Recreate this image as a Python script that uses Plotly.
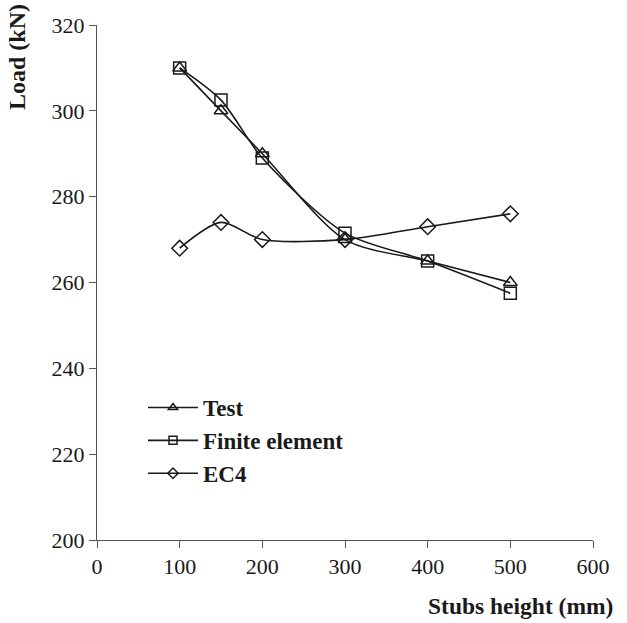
import plotly.graph_objects as go

stub_height = [100, 150, 200, 300, 400, 500]
load_test = [310, 300, 290, 270, 265, 260]
load_fe = [310, 302.5, 289, 271.5, 265, 257.5]
load_ec4 = [268, 274, 270, 270, 273, 276]

x_ticks = [0, 100, 200, 300, 400, 500, 600]
y_ticks = [200, 220, 240, 260, 280, 300, 320]

FONT = "Liberation Serif"
INK = "#1a1a1a"

series = [
    ("Test", load_test, "triangle-up-open"),
    ("Finite element", load_fe, "square-open"),
    ("EC4", load_ec4, "diamond-open"),
]

fig = go.Figure()
for name, y, sym in series:
    fig.add_trace(go.Scatter(
        x=stub_height, y=y, name=name, mode="lines+markers",
        line=dict(color=INK, width=1.6, shape="spline", smoothing=0.8),
        marker=dict(symbol=sym, size=12, color=INK, line=dict(width=1.5, color=INK)),
        showlegend=False,
    ))
    # legend entry with a smaller marker
    fig.add_trace(go.Scatter(
        x=[None], y=[None], name=name, mode="lines+markers",
        line=dict(color=INK, width=1.6),
        marker=dict(symbol=sym, size=8, color=INK, line=dict(width=1.5, color=INK)),
    ))

pw, ph = 627 - 97 - 34, 623 - 25 - 83

fig.update_layout(
    width=627, height=623,
    margin=dict(l=97, r=34, t=25, b=83),
    plot_bgcolor="white", paper_bgcolor="white",
    font=dict(family=FONT, size=22, color=INK),
    showlegend=True,
    legend=dict(
        x=(143 - 97) / pw, y=(540 - 386) / ph, xanchor="left", yanchor="top",
        bgcolor="rgba(0,0,0,0)", borderwidth=0,
        font=dict(family=FONT, size=23, color=INK, weight="bold"),
        itemwidth=50, traceorder="normal",
    ),
    xaxis=dict(
        range=[0, 600], tickvals=x_ticks, ticks="outside", ticklen=7,
        tickcolor="#555", showline=True, linecolor="#555", linewidth=1,
        showgrid=False, zeroline=False, tickfont=dict(size=22),
    ),
    yaxis=dict(
        range=[200, 320], tickvals=y_ticks, ticks="outside", ticklen=7,
        tickcolor="#555", showline=True, linecolor="#555", linewidth=1,
        showgrid=False, zeroline=False, tickfont=dict(size=22),
    ),
    annotations=[
        dict(text="<b>Stubs height (mm)</b>", x=(615 - 97) / pw, y=(540 - 606) / ph,
             xref="paper", yref="paper", showarrow=False,
             font=dict(size=23.5, family=FONT, color=INK), xanchor="right", yanchor="middle"),
        dict(text="<b>Load (kN)</b>", x=(17 - 97) / pw, y=(540 - 57) / ph,
             xref="paper", yref="paper", showarrow=False, textangle=-90,
             font=dict(size=24, family=FONT, color=INK), xanchor="center", yanchor="middle"),
    ],
)

fig.write_html("out.html")
